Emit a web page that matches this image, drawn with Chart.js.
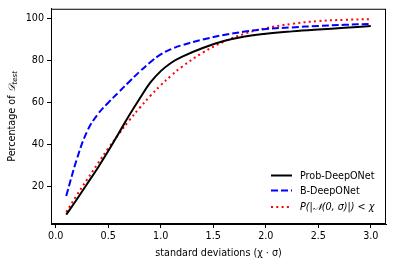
<!DOCTYPE html>
<html>
<head>
<meta charset="utf-8">
<script src="https://cdn.jsdelivr.net/npm/chart.js@4.4.0/dist/chart.umd.min.js"></script>
<style>
html, body { margin: 0; padding: 0; background: #fff; }
#wrap { width: 393px; height: 266px; }
</style>
</head>
<body>
<div id="wrap"><canvas id="chart" width="393" height="266"></canvas></div>
<script>
// values
const sigmas = [0.1, 0.2, 0.3, 0.4, 0.5, 0.6, 0.7, 0.8, 0.9, 1.0, 1.1, 1.2, 1.4, 1.6, 1.8, 2.0, 2.25, 2.5, 2.75, 3.0];
const probDeepONet = [6.8, 14, 21.5, 29, 37, 45.5, 54, 62, 69.5, 75, 79, 81.8, 86, 89.3, 91.5, 92.8, 93.9, 94.8, 95.6, 96.4];
const bDeepONet = [15.7, 33, 46.5, 54.5, 60, 65, 70, 74.8, 79.2, 83, 85.5, 87.3, 90, 92.2, 93.8, 95, 95.8, 96.5, 97, 97.5];
const gaussRef = [8, 16, 23.6, 31, 38.3, 45, 51.6, 57.6, 63.2, 68.3, 72.9, 77, 83.8, 89, 92.8, 95.4, 97.5, 98.8, 99.4, 99.7];
const xTicks = [0, 0.5, 1, 1.5, 2, 2.5, 3];
const yTicks = [20, 40, 60, 80, 100];
const seriesLabels = ['Prob-DeepONet', 'B-DeepONet', 'P(|\u{1D4A9}(0, \u03C3)|) < \u03C7'];

const FONT = "'DejaVu Sans', sans-serif";

function pts(ys) {
    return sigmas.map((x, i) => ({ x: x, y: ys[i] }));
}

const decorPlugin = {
    id: 'decor',
    afterDraw(chart) {
        const ctx = chart.ctx;
        const a = chart.chartArea;
        ctx.save();
        // frame (top and right spines)
        ctx.strokeStyle = '#000';
        ctx.lineWidth = 1;
        ctx.strokeRect(a.left + 0.5, a.top + 0.5, a.right - a.left - 1, a.bottom - a.top - 1);

        // x title
        ctx.fillStyle = '#000';
        ctx.font = '9.6px ' + FONT;
        ctx.textAlign = 'center';
        ctx.textBaseline = 'alphabetic';
        ctx.fillText('standard deviations (\u03C7 \u00B7 \u03C3)', (a.left + a.right) / 2, 256);

        // y title with subscript
        ctx.translate(15, (a.top + a.bottom) / 2);
        ctx.rotate(-Math.PI / 2);
        const main = 'Percentage of ';
        const sym = '\u{1D49F}';
        const sub = 'test';
        ctx.font = '9.6px ' + FONT;
        const w1 = ctx.measureText(main).width;
        ctx.font = 'italic 9.6px ' + FONT;
        const w2 = ctx.measureText(sym).width;
        ctx.font = 'italic 7px ' + FONT;
        const w3 = ctx.measureText(sub).width;
        let x0 = -(w1 + w2 + w3) / 2;
        ctx.textAlign = 'left';
        ctx.font = '9.6px ' + FONT;
        ctx.fillText(main, x0, 0);
        ctx.font = 'italic 9.6px ' + FONT;
        ctx.fillText(sym, x0 + w1, 0);
        ctx.font = 'italic 7px ' + FONT;
        ctx.fillText(sub, x0 + w1 + w2, 2);
        ctx.restore();

        // legend, lower right inside the axes
        ctx.save();
        const rows = [175.5, 190.5, 207];
        chart.data.datasets.forEach((ds, i) => {
            const y = rows[i];
            ctx.strokeStyle = ds.borderColor;
            ctx.lineWidth = ds.borderWidth;
            ctx.setLineDash(ds.borderDash || []);
            ctx.beginPath();
            ctx.moveTo(271, y);
            ctx.lineTo(292, y);
            ctx.stroke();
            ctx.setLineDash([]);
            ctx.fillStyle = '#000';
            ctx.font = (i === 2 ? 'italic ' : '') + '9.6px ' + FONT;
            ctx.textAlign = 'left';
            ctx.textBaseline = 'middle';
            ctx.fillText(ds.label, 300, y + 0.5);
        });
        ctx.restore();
    }
};

new Chart(document.getElementById('chart'), {
    type: 'line',
    data: {
        datasets: [
            {
                label: seriesLabels[0],
                data: pts(probDeepONet),
                borderColor: '#000',
                borderWidth: 2,
                pointRadius: 0,
                tension: 0.4
            },
            {
                label: seriesLabels[1],
                data: pts(bDeepONet),
                borderColor: '#0000ff',
                borderWidth: 2,
                borderDash: [7, 3],
                pointRadius: 0,
                tension: 0.4
            },
            {
                label: seriesLabels[2],
                data: pts(gaussRef),
                borderColor: '#ff0000',
                borderWidth: 2,
                borderDash: [2, 3.3],
                pointRadius: 0,
                tension: 0.4
            }
        ]
    },
    options: {
        responsive: false,
        animation: false,
        layout: { padding: { top: 6, right: 7, left: 0, bottom: 0 } },
        plugins: {
            legend: { display: false },
            tooltip: { enabled: false }
        },
        scales: {
            x: {
                type: 'linear',
                min: -0.045,
                max: 3.145,
                afterBuildTicks: s => { s.ticks = xTicks.map(v => ({ value: v })); },
                afterFit: s => { s.height = 42; },
                ticks: {
                    color: '#000',
                    font: { family: FONT, size: 9.6 },
                    padding: 3,
                    maxRotation: 0,
                    callback: v => v.toFixed(1)
                },
                grid: { drawOnChartArea: false, drawTicks: true, tickLength: 4, color: '#000' },
                border: { display: true, color: '#000' }
            },
            y: {
                min: 2.35,
                max: 104.65,
                afterBuildTicks: s => { s.ticks = yTicks.map(v => ({ value: v })); },
                afterFit: s => { s.width = 51; },
                ticks: {
                    color: '#000',
                    font: { family: FONT, size: 9.6 },
                    padding: 3,
                    callback: v => String(v)
                },
                grid: { drawOnChartArea: false, drawTicks: true, tickLength: 4, color: '#000' },
                border: { display: true, color: '#000' }
            }
        }
    },
    plugins: [decorPlugin]
});
</script>
</body>
</html>
